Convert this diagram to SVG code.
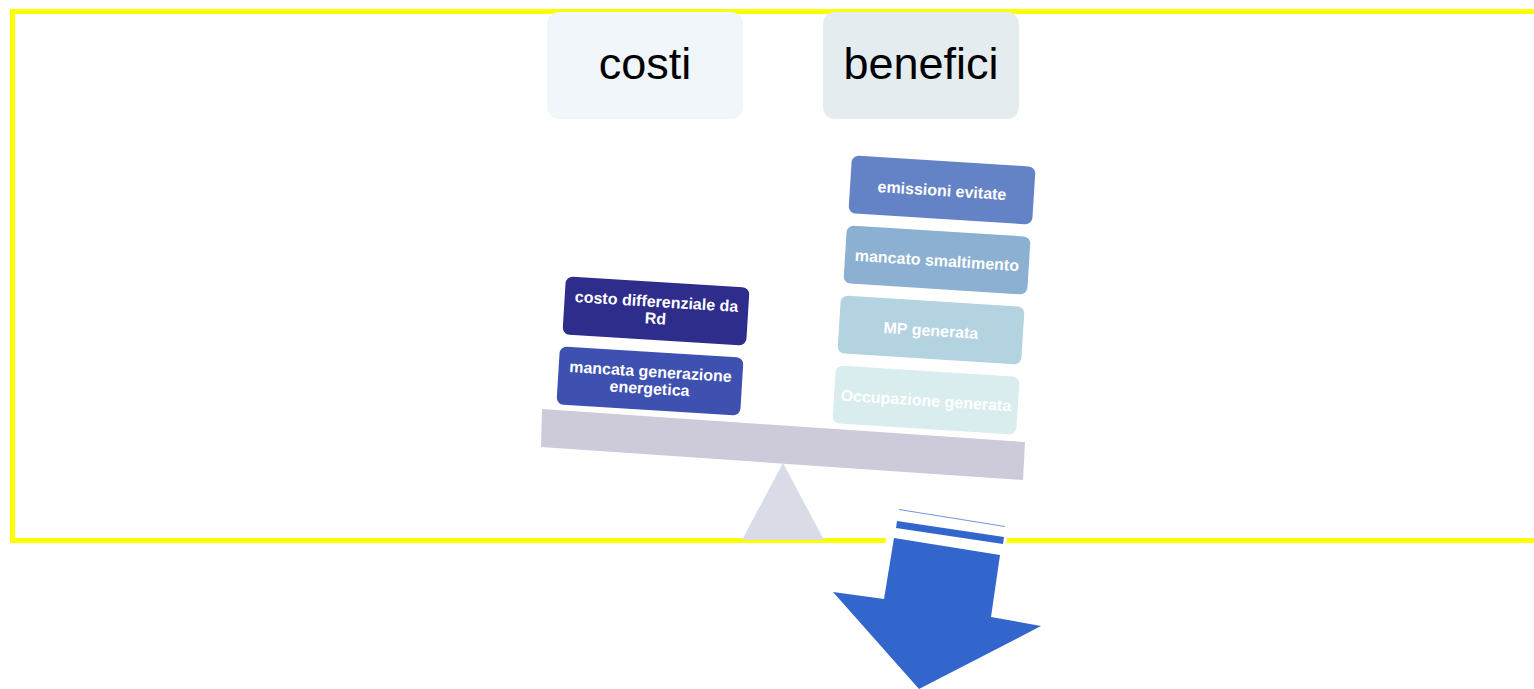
<svg xmlns="http://www.w3.org/2000/svg" width="1534" height="689" viewBox="0 0 1534 689">
<style>
.top{font-family:"Liberation Sans",Arial,sans-serif;font-size:45px;fill:#000;text-anchor:middle}
.lbl{font-family:"Liberation Sans",Arial,sans-serif;font-size:16px;font-weight:bold;fill:#fff;text-anchor:middle}
</style>
<rect width="1534" height="689" fill="#fff"/>
<rect x="12.5" y="11.5" width="1540" height="529" fill="none" stroke="#ffff00" stroke-width="5"/>
<g id="costi"><rect x="547" y="12" width="196" height="107" rx="12" fill="#f0f6f9"/><text class="top" x="645" y="79">costi</text></g>
<g id="benefici"><rect x="823" y="12" width="196" height="107" rx="12" fill="#e5ecf0"/><text class="top" x="921" y="79">benefici</text></g>
<g id="fulcrum"><polygon points="783,463 742,540 824,540" fill="#d9dbe6"/></g>
<g id="beam"><polygon points="542,409 1025,442 1023,480 541,447" fill="#cdcbd9"/></g>
<g id="costo-differenziale" transform="rotate(3.5 656 311)"><rect x="564" y="282" width="184" height="58" rx="7" fill="#2e2d8c"/><text class="lbl" x="656" y="307">costo differenziale da</text><text class="lbl" x="656" y="324">Rd</text></g>
<g id="mancata-generazione" transform="rotate(3.5 650 381)"><rect x="558" y="352" width="184" height="58" rx="7" fill="#3f51b0"/><text class="lbl" x="650" y="377">mancata generazione</text><text class="lbl" x="650" y="394">energetica</text></g>
<g id="emissioni" transform="rotate(3.6 942 190)"><rect x="850" y="161" width="184" height="58" rx="7" fill="#6383c6"/><text class="lbl" x="942" y="196">emissioni evitate</text></g>
<g id="smaltimento" transform="rotate(3.6 937 260)"><rect x="845" y="231" width="184" height="58" rx="7" fill="#8bb0d2"/><text class="lbl" x="937" y="266">mancato smaltimento</text></g>
<g id="mp" transform="rotate(3.6 931 330)"><rect x="839" y="301" width="184" height="58" rx="7" fill="#b2d3df"/><text class="lbl" x="931" y="336">MP generata</text></g>
<g id="occupazione" transform="rotate(3.6 926 400)"><rect x="834" y="371" width="184" height="58" rx="7" fill="#d9ecee"/><text class="lbl" x="926" y="406">Occupazione generata</text></g>
<g id="arrow">
<polygon points="891,505 1009,522 1004,562 885,545" fill="#fff"/>
<polygon points="899,509 1005,526 1005,527 899,510" fill="#3366cc" opacity="0.7"/>
<polygon points="897,521 1004,537 1003,544 896,528" fill="#3366cc"/>
<polygon points="894,538 1000,555 991,617 1041,626 919,689 833,592 884,599" fill="#3366cc"/>
</g>
</svg>
